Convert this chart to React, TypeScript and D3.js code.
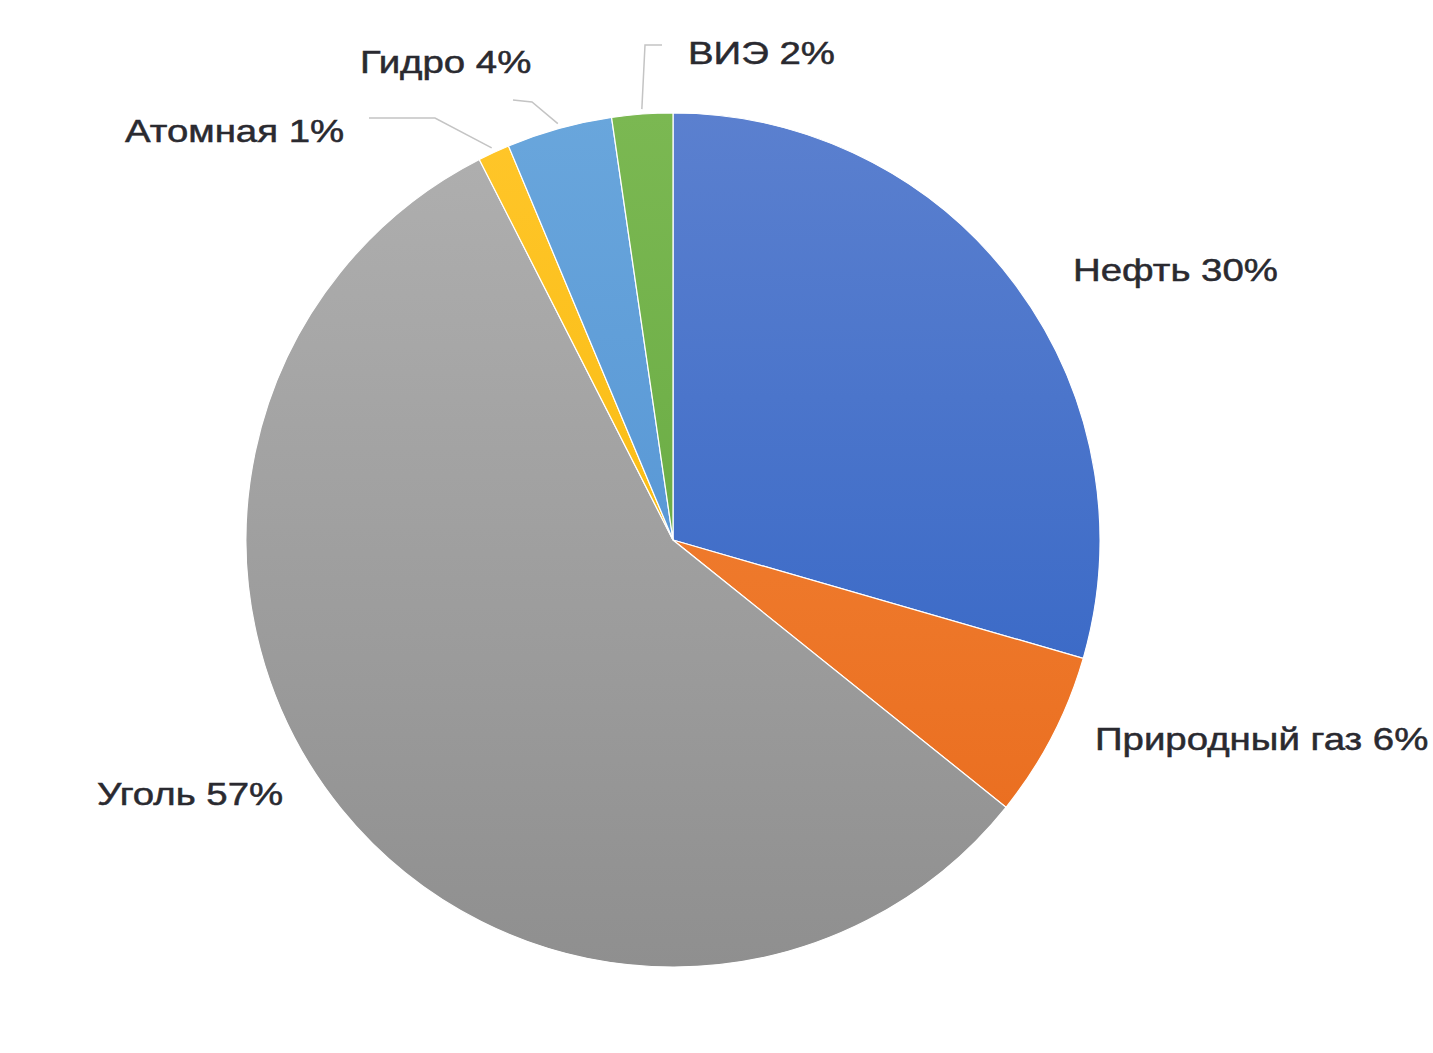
import React from 'react'
import * as d3 from 'd3'

// shares of primary energy (labels show rounded values)
const categories = ['Нефть', 'Природный газ', 'Уголь', 'Атомная', 'Гидро', 'ВИЭ']
const shares = [29.5, 6.3, 56.8, 1.2, 4.0, 2.3]
const labelPercents = [30, 6, 57, 1, 4, 2]

const colorsTop = ['#5b80cf', '#f58a3c', '#b0b0b0', '#ffc62a', '#69a6dc', '#7bb852']
const colorsBottom = ['#2b5fc3', '#e8691b', '#8f8f8f', '#f5b400', '#4a8bd0', '#5da33a']

const width = 1433
const height = 1053
const cx = 673
const cy = 540
const radius = 427
const textStretch = 1.2

// label anchors (start / baseline) relative to pie centre
const labelOffsets: [number, number][] = [
  [400, -259],
  [422, 210],
  [-576, 265],
  [-548, -398],
  [-313, -467],
  [15, -476],
]

// leader lines for the thin slices: elbow and end, relative to pie centre
const leaders: Record<number, [number, number][]> = {
  3: [[-238, -422], [-304, -422]],
  4: [[-141, -438], [-160, -440]],
  5: [[-28, -495], [-11, -495]],
}

export default function App() {
  const data = categories.map((c, i) => ({ name: c, value: shares[i], idx: i }))

  const pie = d3.pie<{ name: string; value: number; idx: number }>()
    .value(d => d.value)
    .sort(null)

  const arcs = pie(data)
  const arc = d3.arc<d3.PieArcDatum<any>>().innerRadius(0).outerRadius(radius)

  return (
    <svg
      width={width}
      height={height}
      style={{ position: 'absolute', left: 0, top: 0, background: '#fff' }}
    >
      <defs>
        {categories.map((c, i) => (
          <linearGradient
            key={c}
            id={`grad${i}`}
            gradientUnits="userSpaceOnUse"
            x1={0}
            y1={-radius}
            x2={0}
            y2={radius}
          >
            <stop offset="0%" stopColor={colorsTop[i]} />
            <stop offset="100%" stopColor={colorsBottom[i]} />
          </linearGradient>
        ))}
      </defs>
      <g transform={`translate(${cx},${cy})`}>
        {arcs.map(a => (
          <path
            key={a.data.name}
            d={arc(a) as string}
            fill={`url(#grad${a.data.idx})`}
            stroke="#fff"
            strokeWidth={1.2}
          />
        ))}
        {arcs.map(a => {
          const pts = leaders[a.data.idx]
          if (!pts) return null
          const mid = (a.startAngle + a.endAngle) / 2
          const r0 = radius + 5
          const start: [number, number] = [Math.sin(mid) * r0, -Math.cos(mid) * r0]
          const line = d3.line()([start, ...pts])
          return (
            <path
              key={`l${a.data.name}`}
              d={line as string}
              fill="none"
              stroke="#c4c4c4"
              strokeWidth={1.5}
            />
          )
        })}
        {arcs.map(a => {
          const [dx, dy] = labelOffsets[a.data.idx]
          return (
            <text
              key={`t${a.data.name}`}
              transform={`translate(${dx},${dy}) scale(${textStretch},1)`}
              fontFamily="Liberation Sans, Arial, sans-serif"
              fontSize={32}
              fill="#2a2a30"
              stroke="#2a2a30"
              strokeWidth={0.5}
            >
              {`${a.data.name} ${labelPercents[a.data.idx]}%`}
            </text>
          )
        })}
      </g>
    </svg>
  )
}
